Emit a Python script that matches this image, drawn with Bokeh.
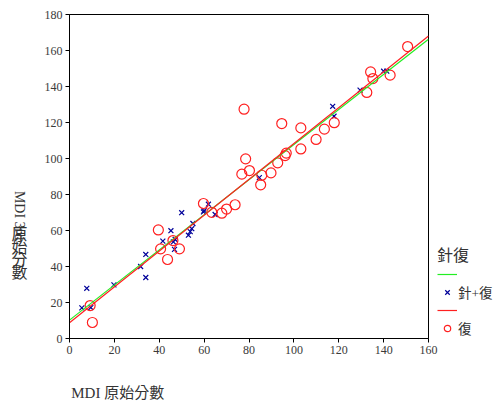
import math
from bokeh.plotting import figure
from bokeh.models import Range1d, Legend, LegendItem, FixedTicker, LinearAxis
from bokeh.core.properties import value
from bokeh.layouts import row
from bokeh.embed import file_html
from bokeh.resources import INLINE

# 針+復 group (crosses)
acu_x = [5.5, 7.7, 9.5, 19.8, 31.7, 34.0, 34.0, 41.6, 45.2, 47.1, 46.3, 46.8, 50.0,
         53.0, 53.8, 54.5, 55.0, 59.7, 60.0, 61.9, 64.9, 84.6, 117.3, 117.9, 129.5,
         140.0, 141.4]
acu_y = [17.0, 27.9, 17.2, 29.8, 40.0, 46.7, 33.9, 54.1, 59.9, 55.0, 53.7, 49.5, 69.9,
         57.4, 59.4, 61.0, 63.9, 70.3, 71.0, 74.6, 68.9, 89.4, 129.0, 123.5, 138.0,
         148.5, 148.5]

# 復 group (circles)
reh_x = [9.2, 10.2, 39.6, 40.6, 43.7, 46.1, 49.0, 59.7, 63.4, 67.9, 70.0, 73.8, 76.8,
         77.8, 78.5, 80.2, 85.2, 85.7, 89.8, 92.8, 94.6, 96.1, 96.6, 103.1, 103.1,
         109.9, 113.6, 118.0, 132.5, 134.2, 135.2, 142.9, 150.7]
reh_y = [18.3, 8.9, 60.3, 49.8, 43.9, 54.4, 49.8, 75.0, 70.1, 69.6, 71.9, 74.3, 91.3,
         127.4, 99.8, 93.3, 85.4, 90.7, 92.0, 97.6, 119.4, 101.6, 103.0, 117.0, 105.3,
         110.6, 116.3, 119.9, 136.7, 148.1, 144.4, 146.3, 162.2]

# fit lines
fit_x = [0, 160]
acu_fit_y = [10.2, 166.3]
reh_fit_y = [8.7, 168.1]

x_ticks = [0, 20, 40, 60, 80, 100, 120, 140, 160]
y_ticks = [0, 20, 40, 60, 80, 100, 120, 140, 160, 180]

x_label = "MDI 原始分數"
y_label_latin = "MDI 3rd"
y_label_cjk = "原始分數"
legend_title = "針復"
acu_name = "針+復"
reh_name = "復"

SERIF = "Liberation Serif, Noto Sans CJK TC"
CJK = "Noto Sans CJK TC"
TXT = "#333333"

W = 495
LW = 40          # left strip width (vertical y title)
TOP, FH, BOT = 14, 324, 90
H = TOP + FH + BOT   # both figures share exactly this height
FW, LEFT = 359, 69 - LW
RIGHT = W - LW - LEFT - FW
X_LABEL_AT = 21.5  # x-axis title sits left-aligned under the axis start

# ---- left strip: vertical y-axis title ----
lf = figure(width=LW, height=H, x_range=Range1d(0, LW), y_range=Range1d(0, H),
            output_backend="svg", toolbar_location=None, min_border=0,
            x_axis_type=None, y_axis_type=None, title=None)
lf.grid.visible = False
lf.outline_line_color = None
lf.text(x=[19], y=[H - 233], text=[y_label_latin], angle=-math.pi / 2,
        text_align="left", text_baseline="middle", text_font_size="14px",
        text_font=value("Liberation Serif"), text_color=TXT)
cjk_centers = [289 + 16.5 * i for i in range(len(y_label_cjk))]
lf.text(x=[19] * len(y_label_cjk), y=[H - c for c in cjk_centers], text=list(y_label_cjk),
        text_align="center", text_baseline="middle", text_font_size="16px",
        text_font=value(CJK), text_color=TXT)

# ---- main plot ----
p = figure(frame_width=FW, frame_height=FH, x_range=Range1d(0, 160), y_range=Range1d(0, 180),
           output_backend="svg", toolbar_location=None, title=None,
           min_border_left=LEFT, min_border_right=RIGHT, min_border_top=TOP,
           min_border_bottom=BOT)
p.grid.visible = False
p.outline_line_color = "black"
p.outline_line_width = 1

for ax, ticks in ((p.xaxis, x_ticks), (p.yaxis, y_ticks)):
    ax.ticker = FixedTicker(ticks=ticks)
    ax.axis_line_color = "black"
    ax.major_tick_line_color = "black"
    ax.major_tick_out = 4
    ax.major_tick_in = 0
    ax.minor_tick_line_color = None
    ax.major_label_text_font = "Liberation Serif"
    ax.major_label_text_font_size = "12px"
    ax.major_label_text_color = "#3a3a3a"
    ax.major_label_standoff = 3

# x-axis title as a label-only axis below the main x axis
lab_axis = LinearAxis(ticker=FixedTicker(ticks=[X_LABEL_AT]),
                      major_label_overrides={X_LABEL_AT: x_label},
                      axis_line_color=None, major_tick_line_color=None,
                      minor_tick_line_color=None, major_tick_out=0, major_tick_in=0,
                      major_label_standoff=28, major_label_text_font=SERIF,
                      major_label_text_font_size="15px", major_label_text_color=TXT)
p.add_layout(lab_axis, "below")

acu_r = p.scatter(acu_x, acu_y, marker="x", size=7, line_color="#000099", line_width=1.2)
reh_r = p.scatter(reh_x, reh_y, marker="circle", size=10, fill_color=None,
                  line_color="#ff2020", line_width=1.2)
acu_line = p.line(fit_x, acu_fit_y, line_color="#22ee22", line_width=1.2)
reh_line = p.line(fit_x, reh_fit_y, line_color="#ff2020", line_width=1.2)

legend = Legend(items=[
    LegendItem(label=" ", renderers=[acu_line]),
    LegendItem(label=acu_name, renderers=[acu_r]),
    LegendItem(label=" ", renderers=[reh_line]),
    LegendItem(label=reh_name, renderers=[reh_r]),
], location=(9, 0), title=legend_title)
legend.title_text_font = SERIF
legend.title_text_font_size = "16px"
legend.title_text_font_style = "normal"
legend.title_text_color = TXT
legend.title_standoff = 0
legend.label_text_font = SERIF
legend.label_text_font_size = "13.5px"
legend.label_text_color = TXT
legend.glyph_width = 20
legend.glyph_height = 16
legend.label_height = 16
legend.label_standoff = 1
legend.spacing = 0
legend.padding = 0
legend.margin = 0
legend.border_line_color = None
legend.background_fill_alpha = 0
p.add_layout(legend, "right")

open("out.html", "w").write(file_html(row(lf, p), INLINE))
